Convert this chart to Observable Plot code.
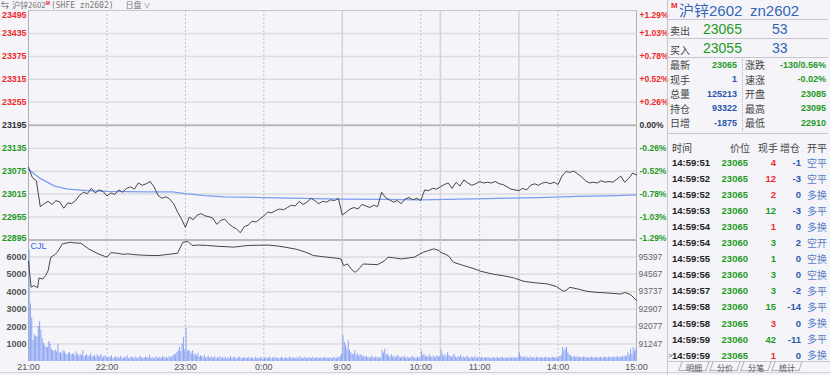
<!DOCTYPE html>
<html><head><meta charset="utf-8">
<script src="https://cdn.jsdelivr.net/npm/d3@7"></script>
<script src="https://cdn.jsdelivr.net/npm/@observablehq/plot@0.6"></script>
<style>
html,body{margin:0;padding:0;background:#f4f4f9;}
#root{position:relative;width:830px;height:375px;overflow:hidden;background:#f4f4f9;font-family:"Liberation Sans",Arial,"Noto Sans CJK SC",sans-serif;}
.abs{position:absolute;white-space:pre;}
.cn{font-family:"Noto Sans CJK SC","Liberation Sans",sans-serif;}
</style></head><body><div id="root"></div>
<script>
// ---------------- data ----------------
const preSettle = 23195;
const priceTicks = [23495, 23435, 23375, 23315, 23255, 23195, 23135, 23075, 23015, 22955, 22895];
const volTicks = [1000, 2000, 3000, 4000, 5000, 6000];
const oiTicks = [91247, 92077, 92907, 93737, 94567, 95397];
const timeLabels = ["21:00", "22:00", "23:00", "0:00", "9:00", "10:00", "11:00", "14:00", "15:00"];
const dottedTimes = ["22:00", "23:00", "0:00", "10:00", "11:00", "14:00"];
const sessionBreaks = ["9:00", "10:15", "11:30"];

// last price, one sample every 3 trading minutes from 21:00
const priceStep = 3;
const prices = [
  23085, 23058, 23050, 22982, 22990, 22996, 22988, 22998, 22994, 22978,
  22992, 22990, 22998, 23012, 23020, 23016, 23030, 23018, 23026, 23022,
  23010, 23018, 23014, 23026, 23020, 23030, 23034, 23028, 23044, 23038,
  23042, 23048, 23034, 23012, 23004, 23008, 23002, 22990, 22968, 22950,
  22928, 22955, 22948, 22960, 22964, 22958, 22956, 22952, 22936, 22946,
  22950, 22938, 22930, 22924, 22914, 22930, 22934, 22944, 22942, 22950,
  22958, 22968, 22966, 22972, 22976, 22974, 22980, 22986, 22984, 22996,
  22988, 22994, 23004, 22998, 22990, 22996, 22994, 23000, 22998, 23004,
  22960, 22968, 22976, 22980, 22976, 22988, 22984, 22980, 22986, 22982,
  23020, 23006, 23000, 22994, 22998, 22990, 23002, 23006, 23000, 23004,
  22998, 23026, 23024, 23030, 23028, 23034, 23040, 23044, 23030, 23046,
  23036, 23052, 23044, 23038, 23042, 23048, 23044, 23046, 23044, 23048,
  23042, 23040, 23034, 23028, 23026, 23024, 23030, 23026, 23038, 23042,
  23038, 23044, 23046, 23042, 23046, 23040, 23062, 23074, 23072, 23075,
  23068, 23060, 23050, 23044, 23046, 23044, 23050, 23046, 23048, 23046,
  23054, 23062, 23046, 23056, 23070, 23065
];

// average price line
const avgTimes = ["21:00","21:05","21:10","21:15","21:20","21:30","21:45","22:00","22:30","22:50","23:00","23:15","23:30","0:00","0:30","0:59","9:30","10:00","10:45","11:15","13:45","14:15","14:45","15:00"];
const avgPrices = [23080,23066,23054,23045,23036,23028,23024,23022,23021,23021,23016,23011,23008,23006,23004,23002,23001,23000,23002,23004,23006,23009,23011,23013];

// volume per trading minute
const volNight = [
  6400, 3300, 2500, 1200, 1530, 1450, 1400, 2000, 2280, 1800,
  1300, 1020, 900, 800, 820, 1150, 1000, 700, 620, 580,
  650, 540, 1000, 480, 520, 430, 610, 560, 420, 380,
  470, 520, 360, 410, 450, 330, 560, 390, 300, 420,
  350, 610, 280, 330, 400, 260, 310, 450, 240, 290,
  350, 220, 380, 260, 300, 410, 200, 270, 320, 230,
  180, 260, 220, 340, 150, 210, 280, 190, 240, 160,
  300, 200, 170, 250, 210, 330, 140, 190, 260, 220,
  160, 280, 200, 150, 240, 310, 180, 210, 170, 260,
  230, 190, 350, 160, 220, 200, 140, 270, 210, 180,
  250, 160, 300, 220, 190, 240, 170, 280, 200, 260,
  330, 420, 380, 520, 610, 820, 560, 1000, 1380, 650,
  1900, 620, 600, 580, 450, 600, 380, 420, 300, 460,
  250, 320, 280, 210, 350, 190, 240, 300, 170, 260,
  220, 180, 290, 150, 230, 200, 270, 160, 210, 190,
  250, 140, 220, 180, 300, 160, 200, 240, 130, 210,
  180, 260, 150, 200, 170, 230, 140, 190, 250, 160,
  210, 180, 130, 240, 170, 200, 150, 220, 190, 140,
  170, 230, 150, 190, 260, 140, 200, 180, 250, 160,
  210, 130, 190, 240, 170, 150, 220, 180, 140, 260,
  200, 170, 230, 150, 190, 210, 140, 280, 170, 200,
  160, 240, 180, 150, 220, 190, 170, 250, 140, 200,
  180, 230, 160, 210, 150, 190, 240, 170, 200, 160,
  220, 180, 150, 230, 190, 170, 250, 210, 300, 420
];
const volMorning1 = [
  1480, 1100, 900, 700, 1190, 650, 500, 420, 380, 600,
  320, 450, 280, 400, 350, 260, 300, 230, 280, 200,
  250, 190, 300, 220, 180, 260, 210, 240, 170, 220,
  620, 480, 700, 350, 420, 300, 260, 380, 240, 310,
  200, 280, 350, 230, 190, 260, 220, 300, 180, 250,
  210, 170, 240, 290, 190, 220, 160, 260, 200, 230,
  600, 350, 420, 280, 300, 240, 380, 260, 220, 310,
  200, 260, 330, 240, 280
];
const volMorning2 = [
  650, 420, 300, 380, 260, 500, 350, 280, 220, 310,
  400, 250, 190, 280, 230, 350, 200, 260, 180, 240,
  300, 210, 170, 250, 220, 190, 280, 160, 230, 200,
  180, 250, 210, 170, 230, 190, 260, 150, 210, 180,
  240, 160, 200, 230, 170, 210, 190, 250, 160, 220,
  180, 200, 240, 170, 210, 190, 230, 160, 200, 250
];
const volAfternoon = [
  500, 300, 250, 220, 280, 200, 240, 180, 260, 210,
  190, 230, 170, 250, 200, 220, 180, 240, 190, 210,
  260, 170, 230, 200, 180, 250, 210, 190, 230, 170,
  300, 260, 350, 800, 600, 700, 820, 500, 380, 320,
  260, 240, 300, 220, 280, 200, 250, 230, 190, 260,
  210, 240, 180, 230, 200, 260, 190, 220, 250, 180,
  230, 200, 240, 210, 190, 270, 220, 200, 250, 230,
  210, 260, 190, 240, 220, 280, 200, 250, 230, 300,
  260, 320, 280, 500, 350, 700, 420, 800, 600, 750
];

// open interest line
const oiTimes = ["21:00","21:02","21:04","21:06","21:07","21:08","21:11","21:13","21:15","21:17","21:20","21:22","21:26","21:32","21:36","21:40","21:46","21:53","22:00","22:03","22:08","22:12","22:16","22:22","22:30","22:39","22:46","22:54","22:58","23:02","23:05","23:10","23:17","23:25","23:32","23:37","23:42","23:48","23:55","0:03","0:10","0:17","0:25","0:32","0:38","0:46","0:56","0:59","9:01","9:04","9:07","9:10","9:13","9:16","9:22","9:27","9:32","9:35","9:40","9:45","9:55","10:02","10:06","10:10","10:14","10:30","10:33","10:36","10:40","10:47","10:55","11:01","11:10","11:18","11:26","13:34","13:43","13:52","13:59","14:04","14:06","14:09","14:15","14:22","14:29","14:38","14:48","14:51","14:55","14:58","15:00"];
const oiValues = [95197,93950,94030,93960,93920,94390,94350,94500,94740,95380,95500,95620,96020,96090,96060,96050,95780,95550,95380,95600,95570,95520,95540,95500,95470,95460,95510,95570,96090,96130,95940,95960,95940,95900,95880,95860,95900,95940,95950,95960,95920,95850,95760,95620,95460,95400,95330,95300,94980,95060,94800,94660,94850,95060,95040,95030,95200,95380,95350,95300,95380,95620,95700,95780,95700,95620,95540,95460,95140,95000,94850,94710,94580,94500,94400,94230,94160,94110,93980,93760,93800,93950,93870,93760,93710,93680,93630,93700,93620,93450,93322];

// side panel
const contractName = "沪锌2602", contractCode = "zn2602";
const askPrice = "23065", askVol = "53", bidPrice = "23055", bidVol = "33";
const quoteLabelsL = ["最新", "现手", "总量", "持仓", "日增"];
const quoteValuesL = ["23065", "1", "125213", "93322", "-1875"];
const quoteLabelsR = ["涨跌", "速涨", "开盘", "最高", "最低"];
const quoteValuesR = ["-130/0.56%", "-0.02%", "23085", "23095", "22910"];
const tradeHeader = ["时间", "价位", "现手", "增仓", "开平"];
const tradeTimes = ["14:59:51","14:59:52","14:59:52","14:59:53","14:59:54","14:59:54","14:59:55","14:59:56","14:59:57","14:59:58","14:59:58","14:59:59","14:59:59"];
const tradePrices = [23065,23065,23065,23060,23065,23060,23060,23060,23060,23060,23065,23060,23065];
const tradeVols = [4,12,2,12,1,3,1,3,3,15,3,42,1];
const tradeOIChg = [-1,-3,0,-3,0,2,0,0,-2,-14,0,-11,0];
const tradeTypes = ["空平","空平","多换","多平","多换","空开","空换","空换","多平","多平","多换","多平","多换"];
const tabs = ["明细", "分价", "分笔", "统计"];

// ---------------- helpers ----------------
const RED = "#f02a2a", GREEN = "#1f9a1f", BLUE = "#2b57aa";
function minuteIndex(t) {
  const [h, mm] = t.split(":").map(Number);
  const c = h * 60 + mm;
  if (h >= 21) return c - 1260;
  if (h < 2) return 180 + c;
  if (c <= 615) return 240 + (c - 540);
  if (c <= 690) return 315 + Math.max(0, c - 630);
  return 375 + Math.max(0, c - 810);
}
const xDomain = [0, minuteIndex("15:00")];
const priceData = prices.map((p, i) => ({m: i * priceStep, p}));
const avgData = avgTimes.map((t, i) => ({m: minuteIndex(t), p: avgPrices[i]}));
const volumes = [...volNight, ...volMorning1, ...volMorning2, ...volAfternoon];
const volData = volumes.map((v, i) => ({m: i + 0.5, v}));
const oiToVol = d3.scaleLinear().domain([oiTicks[0], oiTicks[oiTicks.length - 1]]).range([volTicks[0], volTicks[volTicks.length - 1]]);
const oiData = oiTimes.map((t, i) => ({m: minuteIndex(t), v: oiToVol(oiValues[i])}));
const pct = p => { const v = (p - preSettle) / preSettle * 100; return (v > 0 ? "+" : "") + v.toFixed(2) + "%"; };
const topTick = priceTicks[0], lowTick = priceTicks[priceTicks.length - 1];

const style = {background: "transparent", fontFamily: "'Liberation Sans', Arial, sans-serif", overflow: "visible"};
function vgrid() {
  return [
    Plot.ruleX(dottedTimes.map(minuteIndex), {stroke: "#c2c2c8", strokeDasharray: "2,2", strokeWidth: 1}),
    Plot.ruleX(sessionBreaks.map(minuteIndex), {stroke: "#d2d2d7", strokeWidth: 1.5}),
    Plot.ruleX(xDomain, {stroke: "#b0b0b6", strokeWidth: 1})
  ];
}
function priceLabels(filter, fill) {
  const ticks = priceTicks.filter(filter);
  const mk = (arr, dy) => [
    Plot.text(arr, {y: d => d, text: d => String(d), frameAnchor: "left", dx: -2, dy, textAnchor: "end", fill, fontWeight: "bold", fontSize: 8.8}),
    Plot.text(arr, {y: d => d, text: d => pct(d), frameAnchor: "right", dx: 3, dy, textAnchor: "start", fill, fontWeight: "bold", fontSize: 8.5})
  ];
  return [...mk(ticks.filter(d => d !== topTick && d !== lowTick), 0),
          ...mk(ticks.filter(d => d === topTick), 5),
          ...mk(ticks.filter(d => d === lowTick), -1.5)];
}

const root = document.getElementById("root");

const pricePlot = Plot.plot({
  width: 670, height: 241, marginLeft: 28, marginRight: 34, marginTop: 10, marginBottom: 1.5,
  x: {domain: xDomain, axis: null},
  y: {domain: [lowTick, topTick], axis: null},
  style,
  marks: [
    Plot.ruleY(priceTicks.filter(d => d !== preSettle && d !== lowTick && d !== topTick), {stroke: "#dcdce1", strokeWidth: 1.5}),
    Plot.ruleY([topTick], {stroke: "#c6c6cb", strokeWidth: 1}),
    Plot.ruleY([preSettle, lowTick], {stroke: "#b8b8bd", strokeWidth: 2}),
    ...vgrid(),
    Plot.line(avgData, {x: "m", y: "p", stroke: "#7d9ef3", strokeWidth: 1.3}),
    Plot.line(priceData, {x: "m", y: "p", stroke: "#474747", strokeWidth: 1}),
    ...priceLabels(d => d > preSettle, RED),
    ...priceLabels(d => d === preSettle, "#333"),
    ...priceLabels(d => d < preSettle, GREEN)
  ]
});
pricePlot.style.position = "absolute"; pricePlot.style.left = "0px"; pricePlot.style.top = "0px";
root.appendChild(pricePlot);

const volPlot = Plot.plot({
  width: 670, height: 135, marginLeft: 28, marginRight: 34, marginTop: 0, marginBottom: 14,
  x: {domain: xDomain, axis: null},
  y: {domain: [0, 6940], axis: null},
  style,
  marks: [
    Plot.ruleY(volTicks, {stroke: "#dcdce1", strokeWidth: 1.5}),
    ...vgrid(),
    Plot.ruleX(volData, {x: "m", y1: 0, y2: "v", stroke: "#89a3f4", strokeWidth: 1}),
    Plot.line(oiData, {x: "m", y: "v", stroke: "#474747", strokeWidth: 1}),
    Plot.text(volTicks, {y: d => d, text: d => String(d), frameAnchor: "left", dx: -2, textAnchor: "end", fill: "#555", fontWeight: "bold", fontSize: 9}),
    Plot.text(oiTicks, {y: d => oiToVol(d), text: d => String(d), frameAnchor: "right", dx: 2, textAnchor: "start", fill: "#666", fontSize: 8.5}),
    Plot.text(timeLabels, {x: d => minuteIndex(d), text: d => d, frameAnchor: "bottom", lineAnchor: "top", dy: 2, fill: "#555", fontSize: 9}),
    Plot.text(["CJL"], {frameAnchor: "top-left", dx: 2, dy: 2, lineAnchor: "top", textAnchor: "start", fill: "#3a66e0", fontSize: 9})
  ]
});
volPlot.style.position = "absolute"; volPlot.style.left = "0px"; volPlot.style.top = "240px";
root.appendChild(volPlot);

// ---------------- side panel & header (HTML) ----------------
function put(txt, x, y, o = {}) {
  const el = document.createElement("div");
  el.className = "abs" + (o.cn ? " cn" : "");
  el.textContent = txt;
  const size = o.size || 10, h = Math.round(size * 1.4);
  el.style.fontSize = size + "px";
  el.style.height = h + "px";
  el.style.lineHeight = h + "px";
  el.style.top = (y - h / 2) + "px";
  if (o.anchor === "end") el.style.right = (830 - x) + "px"; else el.style.left = x + "px";
  el.style.color = o.color || "#333";
  if (o.bold) el.style.fontWeight = "bold";
  if (o.family) el.style.fontFamily = o.family;
  root.appendChild(el);
  return el;
}
function box(x, y, w, h, css) {
  const el = document.createElement("div");
  el.className = "abs";
  Object.assign(el.style, {left: x + "px", top: y + "px", width: w + "px", height: h + "px"}, css);
  root.appendChild(el);
}
const LINE = "#c6c6cc";

// header strip: one flowing line so pieces never overlap
box(0, 0, 667, 10, {background: "#f4f4f9"});
const hdr = document.createElement("div");
hdr.className = "abs";
Object.assign(hdr.style, {left: "1px", top: "0px", height: "10px", lineHeight: "10px", fontSize: "8px", color: "#777"});
const seg = (txt, css) => { const s = document.createElement("span"); s.textContent = txt; Object.assign(s.style, css || {}); hdr.appendChild(s); return s; };
seg("⇆", {color: "#555"});
seg("沪锌2602", {marginLeft: "3px", fontFamily: "'Noto Sans CJK SC', sans-serif"});
seg("M", {color: RED, fontSize: "5px", fontWeight: "bold", verticalAlign: "top", lineHeight: "6px"});
seg("(SHFE zn2602)", {marginLeft: "1px", fontFamily: "'DejaVu Sans Mono', monospace"});
seg("日盘", {marginLeft: "12px", fontFamily: "'Noto Sans CJK SC', sans-serif"});
seg("∨", {marginLeft: "2px", fontSize: "7px"});
root.appendChild(hdr);

// panel separators
box(667, 0, 1, 375, {background: LINE});
box(668, 19, 160, 1, {background: LINE});
box(668, 38, 160, 1, {background: LINE});
box(668, 57, 160, 1, {background: LINE});
box(668, 133, 160, 1, {background: LINE});
box(742, 59, 0, 72, {borderLeft: "1px dotted #b5b5bb"});

put("M", 671, 5, {size: 8, color: RED, bold: true});
put(contractName, 679, 10, {size: 15, color: "#3565b8"});
put(contractCode, 750, 10, {size: 15, color: "#3565b8"});
put("卖出", 670, 31, {size: 10, color: "#444", cn: true});
put(askPrice, 703, 29, {size: 14, color: GREEN});
put(askVol, 772, 29, {size: 14, color: "#3363b3"});
put("买入", 670, 50, {size: 10, color: "#444", cn: true});
put(bidPrice, 703, 48, {size: 14, color: GREEN});
put(bidVol, 772, 48, {size: 14, color: "#3363b3"});

quoteLabelsL.forEach((l, i) => {
  const y = 65 + i * 14.5;
  put(l, 670, y, {size: 10, color: "#444", cn: true});
  put(quoteValuesL[i], 737, y, {size: 9, bold: true, anchor: "end", color: i === 0 ? GREEN : BLUE});
  put(quoteLabelsR[i], 745, y, {size: 10, color: "#444", cn: true});
  put(quoteValuesR[i], 826, y, {size: 9, bold: true, anchor: "end", color: GREEN});
});

const hdrX = [672, 730, 758, 780, 807];
tradeHeader.forEach((h, i) => put(h, hdrX[i], 148, {size: 10, color: "#444", cn: true}));
tradeTimes.forEach((t, i) => {
  const y = 162.7 + i * 16.03;
  const up = tradePrices[i] >= +askPrice;
  put(t, 672, y, {size: 9.5, bold: true, color: "#222"});
  put(String(tradePrices[i]), 748, y, {size: 9.5, bold: true, anchor: "end", color: GREEN});
  put(String(tradeVols[i]), 776, y, {size: 9.5, bold: true, anchor: "end", color: up ? RED : GREEN});
  put(String(tradeOIChg[i]), 801, y, {size: 9.5, bold: true, anchor: "end", color: BLUE});
  put(tradeTypes[i], 807, y, {size: 10, color: "#5b7cc2", cn: true});
});
put(">", 668, 355, {size: 8, color: "#555"});

// tabs
box(668, 361, 162, 1, {background: LINE});
const tabX = [680, 711, 742, 773];
tabs.forEach((t, i) => {
  box(tabX[i], 361, 28, 10, {borderLeft: "1px solid #b0b0b6", borderRight: "1px solid #b0b0b6", borderBottom: "1px solid #b0b0b6", transform: "skewX(-20deg)", boxSizing: "border-box"});
  put(t, tabX[i] + 6, 367, {size: 8, color: "#555", cn: true});
});
box(0, 372, 830, 1, {background: "#d0d0d5"});
</script></body></html>
